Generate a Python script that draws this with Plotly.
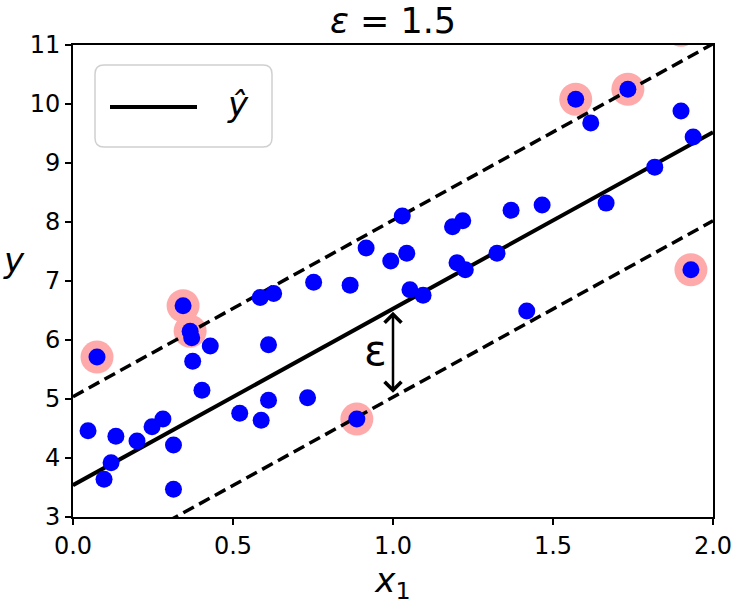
import plotly.graph_objects as go

# ---- data ----
x_points = [0.075, 0.047, 0.097, 0.119, 0.134, 0.200, 0.247, 0.281, 0.314, 0.314,
            0.344, 0.366, 0.371, 0.374, 0.403, 0.429, 0.521, 0.588, 0.611, 0.733,
            0.887, 0.611, 0.585, 0.627, 0.752, 0.866, 0.916, 0.993, 1.029, 1.043,
            1.053, 1.094, 1.186, 1.218, 1.200, 1.226, 1.325, 1.369, 1.466, 1.418,
            1.666, 1.818, 1.618, 1.571, 1.734, 1.900, 1.938, 1.931, 1.900]
y_points = [5.71, 4.46, 3.64, 3.92, 4.37, 4.29, 4.53, 4.66, 4.22, 3.47,
            6.58, 6.15, 6.04, 5.64, 5.15, 5.90, 4.76, 4.64, 4.98, 5.02,
            4.66, 5.92, 6.72, 6.79, 6.98, 6.93, 7.56, 7.34, 8.10, 7.47,
            6.85, 6.76, 7.92, 8.02, 7.31, 7.19, 7.47, 8.20, 8.29, 6.49,
            8.32, 8.93, 9.68, 10.08, 10.25, 9.88, 9.44, 7.19, 11.25]
sv_x = [0.075, 0.344, 0.366, 0.887, 1.571, 1.734, 1.931, 1.900]
sv_y = [5.71, 6.58, 6.15, 4.66, 10.08, 10.25, 7.19, 11.25]

line_x = [0.0, 2.0]
y_pred = [3.54, 9.52]
y_upper = [5.04, 11.02]
y_lower = [2.04, 8.02]

eps_x = 1.0
eps_top = 6.53
eps_bottom = 5.03

x_ticks = [0.0, 0.5, 1.0, 1.5, 2.0]
y_ticks = [3, 4, 5, 6, 7, 8, 9, 10, 11]

FONT = "DejaVu Sans"

fig = go.Figure()
fig.add_trace(go.Scatter(x=sv_x, y=sv_y, mode="markers",
                         marker=dict(size=33, color="#FFAAAA", line=dict(width=0)),
                         showlegend=False, hoverinfo="skip"))
fig.add_trace(go.Scatter(x=line_x, y=y_pred, mode="lines",
                         line=dict(color="black", width=4), name="ŷ", showlegend=False))
fig.add_trace(go.Scatter(x=line_x, y=y_upper, mode="lines",
                         line=dict(color="black", width=3.5, dash="12px,6px"), showlegend=False))
fig.add_trace(go.Scatter(x=line_x, y=y_lower, mode="lines",
                         line=dict(color="black", width=3.5, dash="12px,6px"), showlegend=False))
fig.add_trace(go.Scatter(x=x_points, y=y_points, mode="markers",
                         marker=dict(size=17, color="#0000FF", line=dict(width=0)),
                         showlegend=False))

W, H = 747, 606
L, R, T, B = 73, 34, 45, 89
pw, ph = W - L - R, H - T - B


def px2paper(px, py):
    return (px - L) / pw, (H - B - py) / ph


# custom legend box (rounded)
x0, y1 = px2paper(95, 65)
x1, y0 = px2paper(272, 147)
rx, ry = 9 / pw, 9 / ph
path = (f"M {x0+rx},{y0} L {x1-rx},{y0} Q {x1},{y0} {x1},{y0+ry} "
        f"L {x1},{y1-ry} Q {x1},{y1} {x1-rx},{y1} L {x0+rx},{y1} "
        f"Q {x0},{y1} {x0},{y1-ry} L {x0},{y0+ry} Q {x0},{y0} {x0+rx},{y0} Z")
fig.add_shape(type="path", path=path, xref="paper", yref="paper",
              line=dict(color="#d0d0d0", width=1.5), fillcolor="rgba(255,255,255,0.8)")
lx0, ly = px2paper(110, 107)
lx1, _ = px2paper(197, 107)
fig.add_shape(type="line", x0=lx0, x1=lx1, y0=ly, y1=ly, xref="paper", yref="paper",
              line=dict(color="black", width=4))
tx, ty = px2paper(238, 104)
fig.add_annotation(x=tx, y=ty, xref="paper", yref="paper", text="<i>ŷ</i>",
                   showarrow=False, font=dict(family=FONT, size=34, color="black"),
                   xanchor="center", yanchor="middle")

# epsilon arrow
fig.add_annotation(x=eps_x, y=eps_top, ax=eps_x, ay=eps_bottom, xref="x", yref="y",
                   axref="x", ayref="y", text="", showarrow=True, arrowside="end+start",
                   arrowhead=4, startarrowhead=4, arrowsize=1.3, startarrowsize=1.3,
                   arrowwidth=2.5, arrowcolor="black", standoff=3, startstandoff=3)
fig.add_annotation(x=0.945, y=5.83, xref="x", yref="y", text="ε", showarrow=False,
                   font=dict(family=FONT, size=42, color="black"),
                   xanchor="center", yanchor="middle")

# y label (unrotated)
yx, yy = px2paper(14, 260)
fig.add_annotation(x=yx, y=yy, xref="paper", yref="paper", text="<i>y</i>",
                   showarrow=False, font=dict(family=FONT, size=34, color="black"),
                   xanchor="center", yanchor="middle")

fig.update_layout(
    width=W, height=H,
    margin=dict(l=L, r=R, t=T, b=B),
    plot_bgcolor="white", paper_bgcolor="white",
    font=dict(family=FONT, color="black"),
    title=dict(text="<i>ε</i> = 1.5", x=(L + pw / 2) / W, xanchor="center",
               y=1 - 21 / H, yanchor="middle",
               font=dict(family=FONT, size=35, color="black")),
    xaxis=dict(range=[0, 2], tickvals=x_ticks, ticktext=[f"{v:.1f}" for v in x_ticks],
               showgrid=False, zeroline=False, showline=True, linecolor="black",
               linewidth=1.8, mirror=True, ticks="outside", ticklen=6, tickwidth=1.5,
               tickcolor="black", tickfont=dict(family=FONT, size=24),
               title=dict(text="<i>x</i><sub>1</sub>", font=dict(family=FONT, size=34),
                          standoff=6)),
    yaxis=dict(range=[3, 11], tickvals=y_ticks, showgrid=False, zeroline=False,
               showline=True, linecolor="black", linewidth=1.8, mirror=True,
               ticks="outside", ticklen=6, tickwidth=1.5, tickcolor="black",
               tickfont=dict(family=FONT, size=24)),
)

fig.write_html("out.html", config={"displayModeBar": False},
               post_script="document.body.style.margin='0';")
